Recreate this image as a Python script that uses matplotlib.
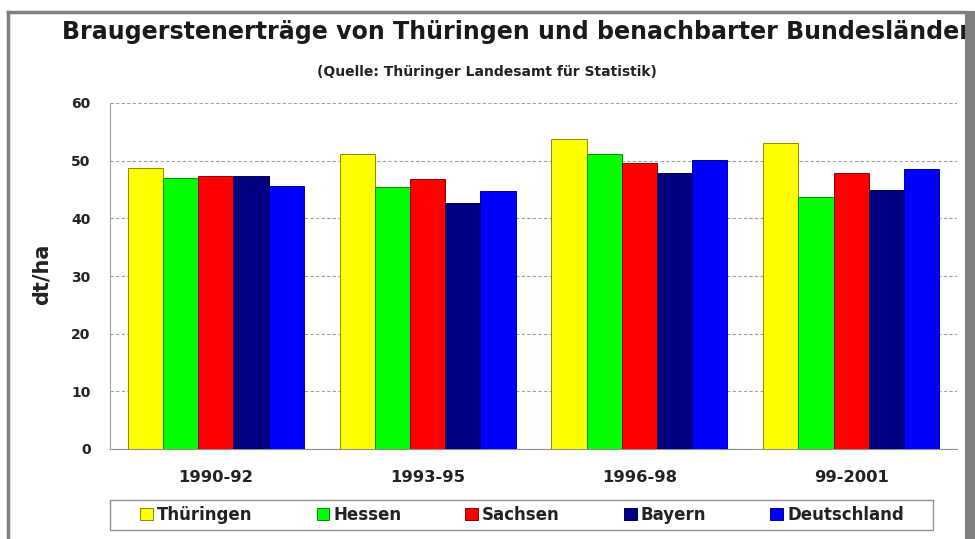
import matplotlib
matplotlib.use("Agg")
import matplotlib.pyplot as plt
from matplotlib.patches import Rectangle
from matplotlib.lines import Line2D
import numpy as np

categories = ["1990-92", "1993-95", "1996-98", "99-2001"]
series_names = ["Thüringen", "Hessen", "Sachsen", "Bayern", "Deutschland"]
thueringen = [48.7, 51.2, 53.8, 53.1]
hessen = [47.0, 45.5, 51.1, 43.7]
sachsen = [47.3, 46.8, 49.6, 47.9]
bayern = [47.4, 42.7, 47.8, 45.0]
deutschland = [45.6, 44.8, 50.2, 48.5]
yticks = [0, 10, 20, 30, 40, 50, 60]

title = "Braugerstenerträge von Thüringen und benachbarter Bundesländer"
subtitle = "(Quelle: Thüringer Landesamt für Statistik)"
ylabel = "dt/ha"

colors = ["#FFFF00", "#00FF00", "#FF0000", "#000080", "#0000FF"]
edges = ["#8a8a00", "#009000", "#900000", "#000050", "#000090"]

plt.rcParams['font.family'] = ['DejaVu Sans']
plt.rcParams['font.weight'] = 'bold'

W, H = 975, 539
fig = plt.figure(figsize=(W / 100, H / 100), dpi=100)
fig.patch.set_facecolor("white")

def fx(px):
    return px / W

def fy(py):
    return 1 - py / H

# frame (gray border)
gray = "#7f7f7f"
fig.add_artist(Line2D([fx(8), fx(965)], [fy(12), fy(12)], color=gray, lw=2.5,
                      transform=fig.transFigure))
fig.add_artist(Line2D([fx(8), fx(8)], [fy(12), 0], color=gray, lw=2.5,
                      transform=fig.transFigure))

ax = fig.add_axes([fx(110), fy(449), fx(957) - fx(110), fy(103) - fy(449)])
ax.set_facecolor("white")

data = [thueringen, hessen, sachsen, bayern, deutschland]
x = np.arange(len(categories))
bw = 0.166
for i, (name, vals) in enumerate(zip(series_names, data)):
    ax.bar(x + (i - 2) * bw, vals, width=bw, color=colors[i], edgecolor=edges[i],
           linewidth=0.7, label=name, zorder=3)

ax.set_xlim(-0.5, len(categories) - 0.5)
ax.set_ylim(0, 60)
ax.set_yticks(yticks)
ax.set_yticklabels([str(t) for t in yticks], fontsize=10, fontweight='bold',
                   color="#222222")
ax.set_xticks(x)
ax.set_xticklabels(categories, fontsize=11.8, fontweight='bold', color="#222222")
ax.tick_params(axis='y', length=0, pad=14)
ax.tick_params(axis='x', length=0, pad=15)
ax.yaxis.grid(True, color="#a0a0a0", linestyle=(0, (3, 2)), linewidth=0.8, zorder=0)
ax.set_axisbelow(True)
for s in ["top", "right"]:
    ax.spines[s].set_visible(False)
ax.spines["left"].set_color("#a0a0a0")
ax.spines["bottom"].set_color("#909090")

fig.text(fx(42), fy(274), ylabel, rotation=90, ha="center", va="center",
         fontsize=15, fontweight='bold', color="#222222")

fig.text(fx(62), fy(32), title, ha="left", va="center", fontsize=17.1,
         fontweight='bold', color="#1a1a1a")
fig.text(fx(487), fy(72), subtitle, ha="center", va="center", fontsize=10,
         fontweight='bold', color="#222222")

# legend frame drawn separately (wide side padding as in the reference)
fig.add_artist(Rectangle((fx(110), fy(530)), fx(933) - fx(110), fy(500) - fy(530),
                         transform=fig.transFigure, facecolor="white",
                         edgecolor="#909090", lw=1.0, zorder=1))
leg = fig.legend(loc="center", bbox_to_anchor=(fx(522), fy(515)), ncol=5,
                 frameon=False, fontsize=12, handlelength=0.75,
                 handleheight=0.75, handletextpad=0.25, columnspacing=3.85,
                 borderpad=0.0)
leg.set_zorder(2)
for t in leg.get_texts():
    t.set_fontweight('bold')
    t.set_color("#222222")

fig.add_artist(Rectangle((fx(965), 0), 1 - fx(965), fy(11), color=gray,
                         transform=fig.transFigure, lw=0, zorder=5))

fig.savefig("out.png", dpi=100, facecolor="white")
